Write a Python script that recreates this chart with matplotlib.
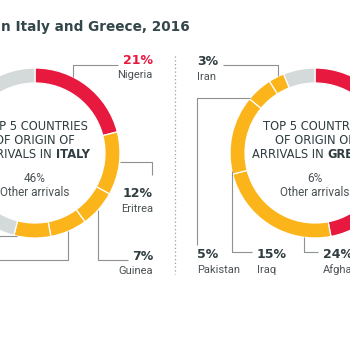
import numpy as np
import matplotlib.pyplot as plt

title = "Top nationalities of sea arrivals in Italy and Greece, 2016"

italy_countries = ["Nigeria", "Eritrea", "Guinea", "Côte d'Ivoire", "Gambia", "Other arrivals"]
italy_share = [21, 12, 7, 7, 7, 46]
greece_countries = ["Syria", "Afghanistan", "Iraq", "Pakistan", "Iran", "Other arrivals"]
greece_share = [47, 24, 15, 5, 3, 6]

RED = "#e8193f"
YELLOW = "#fbb51a"
GREY = "#d4d9da"
DARK = "#2f3c40"
TXT = "#4b5154"
LINE = "#8c9193"

italy_colors = [RED, YELLOW, YELLOW, YELLOW, YELLOW, GREY]
greece_colors = [RED, YELLOW, YELLOW, YELLOW, YELLOW, GREY]

# layout, in image pixels (y grows downwards)
R, W = 85, 15
italy_c = (35, 153)
greece_c = (315, 153)

# leader: first item meets the ring on a vertical ('v', x) or horizontal ('h', y) line
italy_leaders = {
    "Nigeria": ([("v", 72.5), (72.5, 65), (118, 65)], (153, 60.5, "right")),
    "Eritrea": ([("h", 162), (152, 162), (152, 175)], (153, 193.5, "right")),
    "Guinea": ([("v", 98), (98, 260), (128, 260)], (153, 256, "right")),
    "Côte d'Ivoire": ([("v", 68), (68, 260), (-40, 260)], (-45, 256, "right")),
    "Gambia": ([("h", 236), (-40, 236)], (-45, 232, "right")),
}
greece_leaders = {
    "Syria": ([("h", 120), (380, 120)], (385, 116, "left")),
    "Afghanistan": ([("v", 304), (304, 252), (318, 252)], (323, 255, "left")),
    "Iraq": ([("v", 232), (232, 252), (252, 252)], (257, 255, "left")),
    "Pakistan": ([("h", 98), (197, 98), (197, 245)], (197, 255, "left")),
    "Iran": ([("v", 278), (278, 65), (223, 65)], (197, 61.5, "left")),
}

fig = plt.figure(figsize=(3.5, 3.5), dpi=100)
ax = fig.add_axes([0, 0, 1, 1])


def ring_point(first, nxt, c):
    kind, v = first
    if kind == "v":
        d = np.sqrt(R**2 - (v - c[0]) ** 2)
        return (v, c[1] - d if nxt[1] < c[1] else c[1] + d)
    d = np.sqrt(R**2 - (v - c[1]) ** 2)
    return (c[0] + d if nxt[0] > c[0] else c[0] - d, v)


def donut(names, shares, colors, c, leaders, country, other_pct):
    # y axis is inverted, so startangle=-90 + counterclock draws clockwise from the top
    ax.pie(shares, colors=colors, startangle=-90, counterclock=True,
           center=c, radius=R,
           wedgeprops=dict(width=W, edgecolor="white", linewidth=0.9))
    for name, share in zip(names, shares):
        if name not in leaders:
            continue
        path, (lx, ly, ha) = leaders[name]
        pts = [ring_point(path[0], path[1], c)] + path[1:]
        xs, ys = zip(*pts)
        ax.plot(xs, ys, color=LINE, lw=0.8, solid_capstyle="butt")
        if lx < 0 or lx > 350:
            continue  # label sits outside the cropped picture
        col = RED if colors[names.index(name)] == RED else DARK
        ax.text(lx, ly, f"{share}%", ha=ha, va="center", fontsize=9,
                fontweight="bold", color=col, family="DejaVu Sans")
        ax.text(lx, ly + 15, name, ha=ha, va="center", fontsize=8,
                color=TXT, family="Roboto")

    cx, cy = c
    fs = 8.3
    for i, line in enumerate(["TOP 5 COUNTRIES", "OF ORIGIN OF"]):
        ax.text(cx, cy - 26 + 13.5 * i, line, ha="center", va="center",
                fontsize=fs, color=DARK, family="DejaVu Sans")
    # last line mixes regular and bold
    r = fig.canvas.get_renderer()
    a = ax.text(0, 0, "ARRIVALS IN ", fontsize=fs, family="DejaVu Sans")
    b = ax.text(0, 0, country, fontsize=fs, family="DejaVu Sans", fontweight="bold")
    wa = a.get_window_extent(r).width
    wb = b.get_window_extent(r).width
    a.remove()
    b.remove()
    x0 = cx - (wa + wb) / 2 * 350 / fig.bbox.width
    xs = x0 + wa * 350 / fig.bbox.width
    ax.text(x0, cy + 1, "ARRIVALS IN ", ha="left", va="center", fontsize=fs,
            color=DARK, family="DejaVu Sans")
    ax.text(xs, cy + 1, country, ha="left", va="center", fontsize=fs,
            color=DARK, family="DejaVu Sans", fontweight="bold")
    ax.text(cx, cy + 25, f"{other_pct}%", ha="center", va="center",
            fontsize=8.5, color=TXT, family="Roboto")
    ax.text(cx, cy + 40, names[-1], ha="center", va="center",
            fontsize=8.5, color=TXT, family="Roboto")


donut(italy_countries, italy_share, italy_colors, italy_c, italy_leaders,
      "ITALY", italy_share[-1])
donut(greece_countries, greece_share, greece_colors, greece_c, greece_leaders,
      "GREECE", greece_share[-1])

ax.plot([175, 175], [56, 274], color="#9a9fa1", lw=0.9, linestyle=(0, (1, 2)))
ax.text(190, 27, title, ha="right", va="center", fontsize=9.8,
        fontweight="bold", color="#33464a", family="DejaVu Sans")

ax.set_xlim(0, 350)
ax.set_ylim(350, 0)
ax.set_aspect("equal")
ax.axis("off")

fig.savefig("out.png", dpi=100, facecolor="white")
